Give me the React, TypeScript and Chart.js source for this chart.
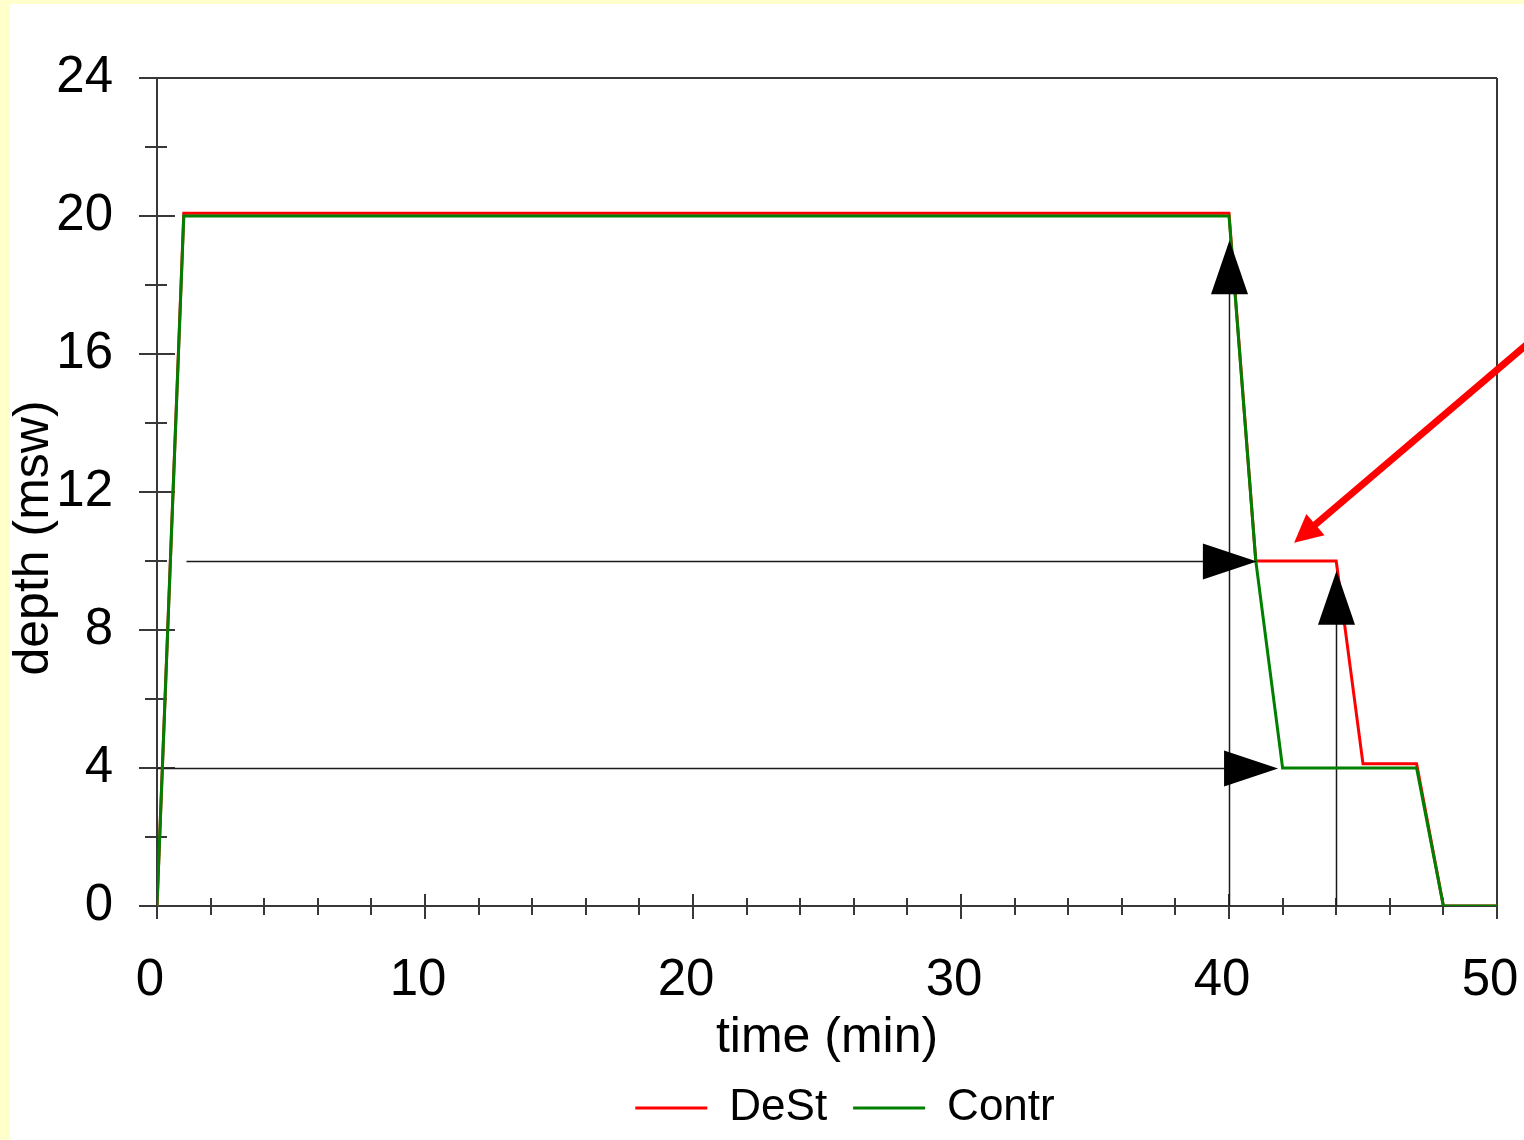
import React, { useEffect, useRef } from 'react';
import { Chart, registerables } from 'chart.js';

Chart.register(...registerables);

const FONT = '"Liberation Sans", Arial, Helvetica, sans-serif';

// Axis ticks
const xTickValues = [0, 10, 20, 30, 40, 50];
const xMinorTickValues = [2, 4, 6, 8, 12, 14, 16, 18, 22, 24, 26, 28, 32, 34, 36, 38, 42, 44, 46, 48];
const yTickValues = [0, 4, 8, 12, 16, 20, 24];
const yMinorTickValues = [2, 6, 10, 14, 18, 22];

// Series
const seriesNames = ['DeSt', 'Contr'];
const destTime = [0, 1, 40, 41, 44, 45, 47, 48, 50];
const destDepth = [0, 20.08, 20.08, 10, 10, 4.12, 4.12, 0, 0];
const contrTime = [0, 1, 40, 41, 42, 47, 48, 50];
const contrDepth = [0, 20, 20, 10, 4, 4, 0, 0];

// Annotation arrows (data units)
const vArrowTime = [40, 44];
const vArrowTipDepth = [19.3, 9.72];
const hArrowDepth = [10, 4];
const hArrowStartTime = [1.1, 0];
const hArrowTipTime = [41.04, 41.83];
const pointerFrom = [51.3, 16.4];
const pointerTo = [42.43, 10.53];

const xTitle = 'time (min)';
const yTitle = 'depth (msw)';

function drawHead(ctx: CanvasRenderingContext2D, tx: number, ty: number, dx: number, dy: number, len: number, halfW: number, color: string) {
  const n = Math.hypot(dx, dy);
  const ux = dx / n, uy = dy / n;
  const bx = tx - ux * len, by = ty - uy * len;
  const px = -uy, py = ux;
  ctx.save();
  ctx.fillStyle = color;
  ctx.beginPath();
  ctx.moveTo(tx, ty);
  ctx.lineTo(bx + px * halfW, by + py * halfW);
  ctx.lineTo(bx - px * halfW, by - py * halfW);
  ctx.closePath();
  ctx.fill();
  ctx.restore();
}

export default function App() {
  const ref = useRef<HTMLCanvasElement>(null);

  useEffect(() => {
    const canvas = ref.current;
    if (!canvas) return;

    const bgPlugin = {
      id: 'bgPlugin',
      beforeDraw(chart: any) {
        const { ctx, width, height } = chart;
        ctx.save();
        ctx.fillStyle = '#ffffff';
        ctx.fillRect(0, 0, width, height);
        ctx.fillStyle = '#FFFFCC';
        ctx.fillRect(0, 0, width, 4);
        ctx.fillRect(0, 0, 10, height);
        ctx.restore();
      },
      afterLayout(chart: any) {
        const lg = chart.legend;
        if (lg) {
          lg.left += 18;
          lg.right += 18;
        }
      },
    };

    const framePlugin = {
      id: 'framePlugin',
      beforeDatasetsDraw(chart: any) {
        const { ctx, scales } = chart;
        const xs = scales.x, ys = scales.y;
        const L = Math.round(xs.getPixelForValue(0));
        const R = Math.round(xs.getPixelForValue(50));
        const T = Math.round(ys.getPixelForValue(24));
        const B = Math.round(ys.getPixelForValue(0));
        ctx.save();
        ctx.strokeStyle = '#383838';
        ctx.lineWidth = 2;
        ctx.beginPath();
        ctx.moveTo(L - 18, B); ctx.lineTo(R, B);
        ctx.moveTo(L - 18, T); ctx.lineTo(R, T);
        ctx.moveTo(L, T); ctx.lineTo(L, B + 13);
        ctx.moveTo(R, T); ctx.lineTo(R, B + 13);
        yTickValues.forEach((v) => {
          const p = Math.round(ys.getPixelForValue(v));
          ctx.moveTo(L - 18, p); ctx.lineTo(L + 18, p);
        });
        yMinorTickValues.forEach((v) => {
          const p = Math.round(ys.getPixelForValue(v));
          ctx.moveTo(L - 12, p); ctx.lineTo(L + 10, p);
        });
        xTickValues.forEach((v) => {
          const p = Math.round(xs.getPixelForValue(v));
          ctx.moveTo(p, B - 12); ctx.lineTo(p, B + 13);
        });
        xMinorTickValues.forEach((v) => {
          const p = Math.round(xs.getPixelForValue(v));
          ctx.moveTo(p, B - 8); ctx.lineTo(p, B + 9);
        });
        ctx.stroke();

        // annotation lines
        ctx.strokeStyle = '#1a1a1a';
        ctx.lineWidth = 1.5;
        ctx.beginPath();
        vArrowTime.forEach((t, i) => {
          const px = Math.round(xs.getPixelForValue(t)) + 0.5;
          ctx.moveTo(px, ys.getPixelForValue(0));
          ctx.lineTo(px, ys.getPixelForValue(vArrowTipDepth[i]) + 20);
        });
        hArrowDepth.forEach((d, i) => {
          const py = Math.round(ys.getPixelForValue(d)) + 0.5;
          ctx.moveTo(xs.getPixelForValue(hArrowStartTime[i]), py);
          ctx.lineTo(xs.getPixelForValue(hArrowTipTime[i]) - 20, py);
        });
        ctx.stroke();
        ctx.restore();
      },
      afterDatasetsDraw(chart: any) {
        const { ctx, scales } = chart;
        const xs = scales.x, ys = scales.y;
        vArrowTime.forEach((t, i) => {
          const px = Math.round(xs.getPixelForValue(t)) + 0.5;
          drawHead(ctx, px, ys.getPixelForValue(vArrowTipDepth[i]), 0, -1, 54, 18.5, '#000');
        });
        hArrowDepth.forEach((d, i) => {
          const py = Math.round(ys.getPixelForValue(d)) + 0.5;
          drawHead(ctx, xs.getPixelForValue(hArrowTipTime[i]), py, 1, 0, 54, 18, '#000');
        });
        // red pointer arrow
        const fx = xs.getPixelForValue(pointerFrom[0]);
        const fy = ys.getPixelForValue(pointerFrom[1]);
        const tx = xs.getPixelForValue(pointerTo[0]);
        const ty = ys.getPixelForValue(pointerTo[1]);
        const dx = tx - fx, dy = ty - fy;
        const n = Math.hypot(dx, dy);
        ctx.save();
        ctx.strokeStyle = '#FF0000';
        ctx.lineWidth = 7;
        ctx.beginPath();
        ctx.moveTo(fx, fy);
        ctx.lineTo(tx - (dx / n) * 22, ty - (dy / n) * 22);
        ctx.stroke();
        ctx.restore();
        drawHead(ctx, tx, ty, dx, dy, 28, 14, '#FF0000');

        // y axis title
        ctx.save();
        ctx.fillStyle = '#000';
        ctx.font = `50px ${FONT}`;
        ctx.textAlign = 'center';
        ctx.textBaseline = 'middle';
        ctx.translate(34, 538);
        ctx.rotate(-Math.PI / 2);
        ctx.fillText(yTitle, 0, 0);
        ctx.restore();
      },
    };

    const chart = new Chart(canvas, {
      type: 'line',
      data: {
        datasets: [
          {
            label: seriesNames[0],
            data: destTime.map((t, i) => ({ x: t, y: destDepth[i] })),
            borderColor: '#FF0000',
            backgroundColor: '#FF0000',
            borderWidth: 3,
            pointRadius: 0,
            tension: 0,
            fill: false,
            order: 1,
          },
          {
            label: seriesNames[1],
            data: contrTime.map((t, i) => ({ x: t, y: contrDepth[i] })),
            borderColor: '#008000',
            backgroundColor: '#008000',
            borderWidth: 3,
            pointRadius: 0,
            tension: 0,
            fill: false,
            order: 0,
          },
        ],
      },
      options: {
        responsive: false,
        maintainAspectRatio: false,
        animation: false,
        layout: { padding: { left: 0, right: 27, top: 78, bottom: 0 } },
        scales: {
          x: {
            type: 'linear',
            min: 0,
            max: 50,
            afterBuildTicks: (s: any) => { s.ticks = xTickValues.map((v) => ({ value: v })); },
            afterFit: (s: any) => { s.height = 154; s.paddingLeft = 0; s.paddingRight = 0; },
            grid: { display: false, drawTicks: false },
            border: { display: false },
            ticks: {
              padding: 44,
              labelOffset: -7,
              maxRotation: 0,
              autoSkip: false,
              color: '#000',
              font: { family: FONT, size: 51 },
            },
            title: {
              display: true,
              text: xTitle,
              color: '#000',
              font: { family: FONT, size: 50, lineHeight: 0.88 },
              padding: 0,
            },
          },
          y: {
            type: 'linear',
            min: 0,
            max: 24,
            afterBuildTicks: (s: any) => { s.ticks = yTickValues.map((v) => ({ value: v })); },
            afterFit: (s: any) => { s.width = 157; s.paddingTop = 0; s.paddingBottom = 0; },
            grid: { display: false, drawTicks: false },
            border: { display: false },
            ticks: {
              padding: 44,
              autoSkip: false,
              color: '#000',
              font: { family: FONT, size: 51 },
            },
          },
        },
        plugins: {
          tooltip: { enabled: false },
          legend: {
            display: true,
            position: 'bottom',
            fullSize: false,
            labels: {
              usePointStyle: true,
              pointStyle: 'line',
              pointStyleWidth: 72,
              padding: 26,
              color: '#000',
              font: { family: FONT, size: 44 },
              sort: (a: any, b: any) => a.datasetIndex - b.datasetIndex,
            },
          },
        },
      } as any,
      plugins: [bgPlugin, framePlugin],
    });

    return () => chart.destroy();
  }, []);

  return (
    <div style={{ position: 'fixed', left: 0, top: 0, width: 1524, height: 1140 }}>
      <canvas ref={ref} width={1524} height={1140} style={{ display: 'block', width: 1524, height: 1140 }} />
    </div>
  );
}
